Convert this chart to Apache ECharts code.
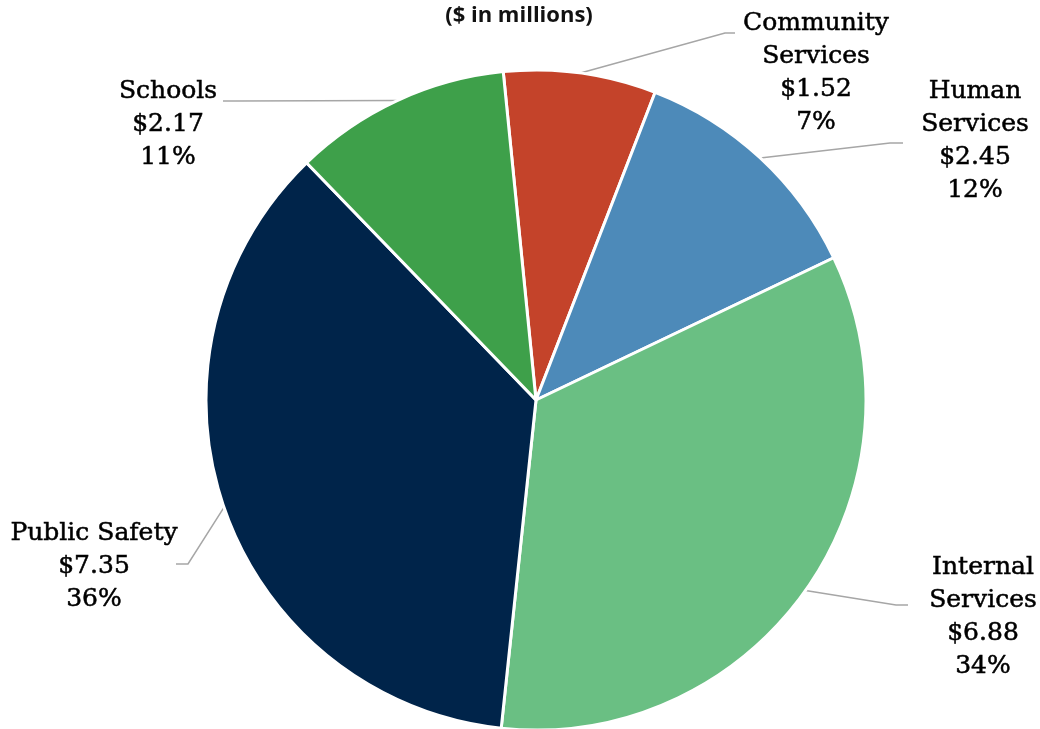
<!DOCTYPE html>
<html>
<head>
<meta charset="utf-8">
<script src="https://cdn.jsdelivr.net/npm/echarts@6/dist/echarts.min.js"></script>
<style>
  html, body { margin: 0; padding: 0; background: #ffffff; }
  #chart { width: 1040px; height: 729px; }
</style>
</head>
<body>
<div id="chart"></div>
<script>
// Budget by service area ($ in millions), clockwise from the top
const categories = ['Community\nServices', 'Human\nServices', 'Internal\nServices', 'Public Safety', 'Schools'];
const amounts = [1.52, 2.45, 6.88, 7.35, 2.17];
const percentLabels = ['7%', '12%', '34%', '36%', '11%'];
const sliceColors = ['#C4432A', '#4D8AB9', '#6ABF83', '#00244A', '#3EA04A'];

// where each label block is centred, and the bend / end of its leader line
const labelSpots = [[816, 73], [975, 141], [983, 617], [94, 566], [168, 124]];
const leaderBends = [[725, 33], [890, 143], [896, 605], [188, 564], [236, 101]];
const leaderEnds = [[735, 33], [903, 143], [908, 605], [176, 564], [223, 101]];

const chart = echarts.init(document.getElementById('chart'), null, { renderer: 'canvas' });

chart.setOption({
  backgroundColor: '#ffffff',
  animation: false,
  title: {
    text: '($ in millions)',
    left: 514,
    top: 0,
    textAlign: 'center',
    textStyle: { fontFamily: 'Open Sans', fontWeight: 'bold', fontSize: 22, color: '#111111' }
  },
  series: [{
    type: 'pie',
    center: [536, 400],
    radius: 330,
    startAngle: 95.7,
    clockwise: true,
    avoidLabelOverlap: false,
    itemStyle: { borderColor: '#ffffff', borderWidth: 3 },
    label: {
      show: true,
      position: 'outside',
      fontFamily: 'DejaVu Serif',
      fontSize: 25,
      lineHeight: 33,
      color: '#000000',
      textBorderColor: '#000000',
      textBorderWidth: 0.5,
      align: 'center',
      formatter: p => p.name + '\n$' + p.value.toFixed(2) + '\n' + percentLabels[p.dataIndex]
    },
    labelLine: {
      show: true,
      length: 20,
      length2: 15,
      lineStyle: { color: '#a6a6a6', width: 1.5 }
    },
    labelLayout: p => {
      const i = p.dataIndex;
      const start = p.labelLinePoints ? p.labelLinePoints[0] : leaderBends[i];
      return {
        x: labelSpots[i][0],
        y: labelSpots[i][1],
        align: 'center',
        verticalAlign: 'middle',
        labelLinePoints: [start, leaderBends[i], leaderEnds[i]]
      };
    },
    data: categories.map((name, i) => ({
      name: name,
      value: amounts[i],
      itemStyle: { color: sliceColors[i] }
    }))
  }]
});
</script>
</body>
</html>
